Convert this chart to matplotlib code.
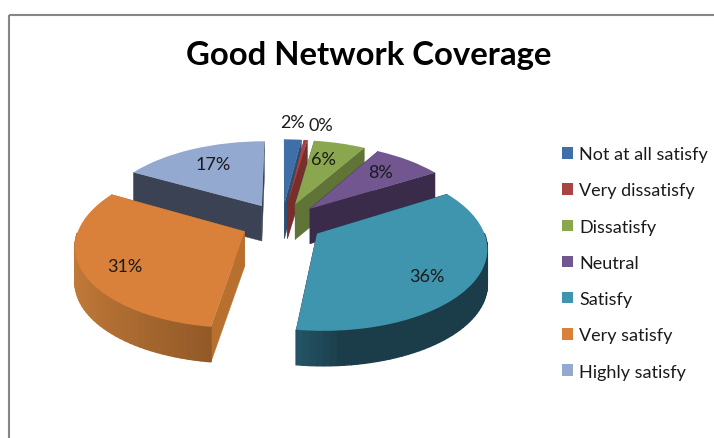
import matplotlib
matplotlib.use('Agg')
import matplotlib.pyplot as plt
import numpy as np
from matplotlib.colors import to_rgb
from matplotlib.patches import Polygon, Rectangle
from matplotlib.transforms import Transform

categories = ['Not at all satisfy', 'Very dissatisfy', 'Dissatisfy', 'Neutral',
              'Satisfy', 'Very satisfy', 'Highly satisfy']
values = [2, 0.4, 6, 8, 36, 31, 17]

top_colors = ['#3f6fa8', '#a94442', '#8aa64e', '#71568f', '#4095ae', '#d9803a', '#93a9cf']
side_colors = ['#2c4d74', '#762f2d', '#5f7436', '#3b2b4a', '#1b3b48', '#b8702f', '#3a4254']
arc_near = ['#2c4d74', '#762f2d', '#5f7436', '#3b2b4a', '#1b3c49', '#8a5425', '#3a4254']
arc_far = ['#2c4d74', '#762f2d', '#5f7436', '#3b2b4a', '#265c6f', '#c47b39', '#3a4254']

# how far each percent label sits from its slice tip
label_r = [1.32, 1.28, 0.72, 0.72, 0.76, 0.76, 0.72]
label_nudge = [(-2, 0), (11, 0), (-5, 0), (-2, -1), (-6, 6), (2, 5), (3, 0)]

explode_by = 0.25
depth = 35
draw_order = [6, 0, 1, 2, 3, 5, 4]


class TiltedPie(Transform):
    # flat pie plane to image pixels, far side smaller
    input_dims = 2
    output_dims = 2

    def transform_non_affine(self, pts):
        pts = np.asarray(pts, dtype=float)
        w = 1 + 0.15 * pts[:, 1]
        return np.column_stack([282 + 164 * pts[:, 0] / w, 223.5 - 79 * pts[:, 1] / w])


def arc_points(wedge, a, b, n=2):
    t = np.radians(np.linspace(a, b, n))
    cx, cy = wedge.center
    return np.column_stack([cx + wedge.r * np.cos(t), cy + wedge.r * np.sin(t)])


fig = plt.figure(figsize=(7.14, 4.39), dpi=100)
ax = fig.add_axes([0, 0, 1, 1])
plt.rcParams['font.family'] = 'Lato'

tilt = TiltedPie()
wedges, _ = ax.pie(values, explode=[explode_by] * len(values), startangle=90,
                   counterclock=False, colors=top_colors, radius=1)
ax.set_aspect('auto')
ax.set_xlim(0, 714)
ax.set_ylim(439, 0)
ax.axis('off')

for i in draw_order:
    w = wedges[i]
    z = 2 + draw_order.index(i) * 2
    w.set_transform(tilt + ax.transData)
    w.set_zorder(z + 1)
    w.set_linewidth(0)

    # the two cut faces
    for ang in (w.theta1, w.theta2):
        rim = tilt.transform(arc_points(w, ang, ang, 1))[0]
        tip = tilt.transform(np.array([w.center]))[0]
        ax.add_patch(Polygon([tip, rim, rim + [0, depth], tip + [0, depth]],
                             facecolor=side_colors[i], edgecolor=side_colors[i],
                             linewidth=0.3, zorder=z))

    # outer wall, only the part facing the viewer
    a, b = w.theta1, w.theta2
    steps = np.arange(a, b, 2.0).tolist() + [b]
    near, far = np.array(to_rgb(arc_near[i])), np.array(to_rgb(arc_far[i]))
    for s, e in zip(steps[:-1], steps[1:]):
        mid = (s + e) / 2
        if np.sin(np.radians(mid)) >= 0:
            continue
        pts = tilt.transform(arc_points(w, s, e))
        # darkest toward the lower right of the pie
        f = np.clip((np.cos(np.radians(mid)) * -1 + 1) / 2, 0, 1)
        if i == 4:
            f = np.clip((-np.cos(np.radians(mid)) + 0.1) / 0.3, 0, 1)
        elif i == 5:
            f = np.clip(-np.cos(np.radians(mid)), 0, 1)
        col = near + (far - near) * f
        ax.add_patch(Polygon([pts[0], pts[1], pts[1] + [0, depth], pts[0] + [0, depth]],
                             facecolor=col, edgecolor=col, linewidth=1.0, zorder=z + 0.5))

    # percent label
    mid = np.radians((w.theta1 + w.theta2) / 2)
    p = np.array([[w.center[0] + label_r[i] * np.cos(mid), w.center[1] + label_r[i] * np.sin(mid)]])
    x, y = tilt.transform(p)[0]
    ax.text(x + label_nudge[i][0], y + label_nudge[i][1], f'{values[i]:.0f}%', fontsize=13,
            color='#1a1a1a', ha='center', va='center', zorder=30)

ax.text(368.5, 56, 'Good Network Coverage', fontsize=23.7, fontweight='bold', color='black',
        ha='center', va='center', zorder=30)

# chart area border runs off the crop on the right and bottom
ax.add_patch(Rectangle((8.5, 15.5), 800, 500, facecolor='none', edgecolor='#868686',
                       linewidth=1.5, zorder=1, clip_on=True))

ax.legend(wedges, categories, loc='upper left', bbox_to_anchor=(555 / 714, 1 - 140 / 439),
          frameon=False, fontsize=13, handlelength=0.6, handleheight=0.6,
          handletextpad=0.35, labelspacing=1.12, borderpad=0.4, borderaxespad=0,
          labelcolor='#1a1a1a')

fig.savefig('out.png', dpi=100)
